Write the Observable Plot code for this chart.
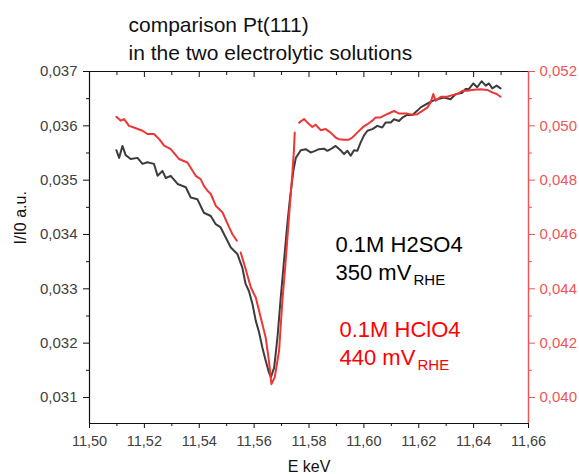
<!DOCTYPE html>
<html>
<head>
<meta charset="utf-8">
<script src="https://cdn.jsdelivr.net/npm/d3@7"></script>
<script src="https://cdn.jsdelivr.net/npm/@observablehq/plot@0.6"></script>
<style>
  html, body { margin: 0; padding: 0; background: white; }
  svg { display: block; }
</style>
</head>
<body>
<div id="chart"></div>
<script>
// ---- data ----
const E_H2SO4 = [11.5098,11.5108,11.5120,11.5132,11.5150,11.5175,11.5193,11.5211,11.5235,11.5248,11.5266,11.5278,11.5296,11.5321,11.5351,11.5369,11.5393,11.5417,11.5442,11.5460,11.5478,11.5497,11.5515,11.5539,11.5557,11.5569,11.5581,11.5594,11.5606,11.5618,11.5630,11.5642,11.5654,11.5661,11.5673,11.5685,11.5697,11.5709,11.5721,11.5731,11.5743,11.5752,11.5770,11.5788,11.5806,11.5818,11.5836,11.5855,11.5867,11.5885,11.5897,11.5915,11.5928,11.5940,11.5952,11.5964,11.5976,11.5988,11.6000,11.6013,11.6031,11.6049,11.6067,11.6079,11.6098,11.6110,11.6128,11.6140,11.6158,11.6177,11.6195,11.6207,11.6231,11.6250,11.6268,11.6292,11.6316,11.6334,11.6359,11.6371,11.6383,11.6399,11.6413,11.6429,11.6444,11.6456,11.6468,11.6484,11.6498];
const I_H2SO4 = [0.03555,0.03541,0.03563,0.03546,0.03539,0.03541,0.03530,0.03533,0.03530,0.03508,0.03517,0.03504,0.03508,0.03493,0.03487,0.03468,0.03465,0.03440,0.03434,0.03419,0.03413,0.03394,0.03376,0.03364,0.03339,0.03309,0.03296,0.03272,0.03241,0.03220,0.03192,0.03168,0.03146,0.03137,0.03155,0.03210,0.03284,0.03352,0.03419,0.03468,0.03517,0.03541,0.03555,0.03557,0.03551,0.03553,0.03557,0.03558,0.03554,0.03559,0.03563,0.03555,0.03548,0.03554,0.03545,0.03555,0.03554,0.03569,0.03582,0.03591,0.03594,0.03600,0.03597,0.03606,0.03606,0.03612,0.03609,0.03615,0.03620,0.03620,0.03628,0.03634,0.03641,0.03646,0.03649,0.03652,0.03649,0.03658,0.03661,0.03668,0.03668,0.03678,0.03671,0.03682,0.03674,0.03678,0.03669,0.03674,0.03669];

const E_HClO4 = [11.5098,11.5114,11.5126,11.5144,11.5162,11.5193,11.5211,11.5235,11.5254,11.5272,11.5296,11.5326,11.5357,11.5387,11.5405,11.5417,11.5430,11.5442,11.5460,11.5485,11.5509,11.5521,11.5537,11.5544,11.5551,11.5569,11.5588,11.5606,11.5624,11.5642,11.5654,11.5663,11.5675,11.5691,11.5703,11.5715,11.5727,11.5740,11.5745,11.5748,11.5756,11.5764,11.5782,11.5794,11.5812,11.5824,11.5843,11.5861,11.5879,11.5897,11.5909,11.5928,11.5946,11.5958,11.5976,11.5995,11.6013,11.6031,11.6043,11.6061,11.6079,11.6098,11.6110,11.6128,11.6140,11.6158,11.6177,11.6195,11.6213,11.6231,11.6243,11.6253,11.6262,11.6280,11.6304,11.6322,11.6341,11.6359,11.6377,11.6401,11.6426,11.6450,11.6468,11.6484,11.6498];
const I_HClO4 = [0.05033,0.05019,0.05025,0.05000,0.04994,0.04982,0.04970,0.04970,0.04951,0.04927,0.04914,0.04878,0.04865,0.04816,0.04804,0.04779,0.04761,0.04749,0.04706,0.04681,0.04626,0.04601,0.04577,null,0.04534,0.04473,0.04405,0.04368,0.04294,0.04221,0.04135,0.04049,0.04074,0.04172,0.04356,0.04503,0.04663,0.04834,0.04908,0.04975,null,0.05012,0.05025,0.05012,0.04996,0.05004,0.04984,0.04988,0.04975,0.04957,0.04951,0.04949,0.04949,0.04957,0.04975,0.04994,0.05006,0.05019,0.05031,0.05031,0.05040,0.05049,0.05055,0.05045,0.05045,0.05045,0.05041,0.05043,0.05055,0.05067,0.05086,0.05117,0.05092,0.05107,0.05107,0.05113,0.05117,0.05129,0.05129,0.05133,0.05135,0.05132,0.05123,0.05117,0.05107];

const xMajorTicks = [11.50,11.52,11.54,11.56,11.58,11.60,11.62,11.64,11.66];
const xMinorTicks = [11.51,11.53,11.55,11.57,11.59,11.61,11.63,11.65];
const yLeftMajor = [0.031,0.032,0.033,0.034,0.035,0.036,0.037];
const yLeftMinor = [0.0315,0.0325,0.0335,0.0345,0.0355,0.0365];
const yRightMajor = [0.040,0.042,0.044,0.046,0.048,0.050,0.052];
const yRightMinor = [0.041,0.043,0.045,0.047,0.049,0.051];

const xDomain = [11.50, 11.66];
const yLeftDomain = [0.030521, 0.037];
const yRightDomain = [0.039042, 0.052];

// linear map of right-axis values into the left-axis scale
const toLeft = v => yLeftDomain[0] + (v - yRightDomain[0]) * (yLeftDomain[1] - yLeftDomain[0]) / (yRightDomain[1] - yRightDomain[0]);
const fromLeft = v => yRightDomain[0] + (v - yLeftDomain[0]) * (yRightDomain[1] - yRightDomain[0]) / (yLeftDomain[1] - yLeftDomain[0]);

const blackData = E_H2SO4.map((e, i) => ({E: e, I: I_H2SO4[i]}));
const redData = E_HClO4.map((e, i) => ({E: e, I: I_HClO4[i] == null ? NaN : toLeft(I_HClO4[i])}));

const comma = (d, n) => d.toFixed(n).replace(".", ",");
const noText = () => "";

const RED_AXIS = "#f05555";
const RED_LINE = "#ee3636";
const GRAY_TXT = "#404040";
const FONT = "'Liberation Sans', Arial, Helvetica, sans-serif";

const chart = Plot.plot({
  width: 579,
  height: 474,
  marginLeft: 89,
  marginRight: 51,
  marginTop: 71,
  marginBottom: 51,
  style: {fontFamily: FONT, background: "white", overflow: "visible"},
  x: {domain: xDomain},
  y: {domain: yLeftDomain},
  marks: [
    // frame lines
    Plot.ruleY([yLeftDomain[1]], {stroke: "#111", strokeWidth: 1.2}),
    Plot.ruleY([yLeftDomain[0]], {stroke: "#111", strokeWidth: 1.2}),
    Plot.ruleX([xDomain[0]], {stroke: "#111", strokeWidth: 1.2}),
    // bottom axis
    Plot.axisX({ticks: xMajorTicks, tickSize: 5, tickPadding: 7, tickFormat: d => comma(d, 2), fontSize: 14.5, fill: GRAY_TXT, stroke: "#111", label: null}),
    Plot.axisX({ticks: xMinorTicks, tickSize: 3, tickFormat: noText, stroke: "#111", label: null}),
    // top ticks (inward)
    Plot.axisX({anchor: "top", ticks: xMajorTicks, tickSize: 5, dy: 5, tickFormat: noText, stroke: "#111", label: null}),
    Plot.axisX({anchor: "top", ticks: xMinorTicks, tickSize: 3, dy: 3, tickFormat: noText, stroke: "#111", label: null}),
    // left axis
    Plot.axisY({ticks: yLeftMajor, tickSize: 6, tickPadding: 6, tickFormat: d => comma(d, 3), fontSize: 15, fill: GRAY_TXT, stroke: "#111", label: null}),
    Plot.axisY({ticks: yLeftMinor, tickSize: 3, tickFormat: noText, stroke: "#111", label: null}),
    // right axis (red)
    Plot.axisY({anchor: "right", ticks: yRightMajor.map(toLeft), tickSize: 6, tickPadding: 5, tickFormat: d => comma(fromLeft(d), 3), fontSize: 15, fill: RED_AXIS, stroke: RED_AXIS, label: null}),
    Plot.axisY({anchor: "right", ticks: yRightMinor.map(toLeft), tickSize: 3, tickFormat: noText, stroke: RED_AXIS, label: null}),
    Plot.ruleX([xDomain[1]], {stroke: RED_AXIS, strokeWidth: 1.5}),
    // curves
    Plot.line(blackData, {x: "E", y: "I", stroke: "#3c3c3c", strokeWidth: 2}),
    Plot.line(redData, {x: "E", y: "I", stroke: RED_LINE, strokeWidth: 2}),
    // axis titles
    Plot.text(["I/I0 a.u."], {frameAnchor: "left", rotate: -90, dx: -69, dy: -3, fontSize: 16, fill: "#111"}),
    Plot.text(["E keV"], {frameAnchor: "bottom", dy: 48, lineAnchor: "bottom", fontSize: 16, fill: "#111"}),
    // title
    Plot.text(["comparison Pt(111)"], {frameAnchor: "top-left", textAnchor: "start", lineAnchor: "bottom", dx: 39, dy: -40, fontSize: 21, fill: "#111"}),
    Plot.text(["in the two electrolytic solutions"], {frameAnchor: "top-left", textAnchor: "start", lineAnchor: "bottom", dx: 39, dy: -12, fontSize: 21, fill: "#111"}),
    // annotations
    Plot.text(["0.1M H2SO4"], {frameAnchor: "top-left", textAnchor: "start", lineAnchor: "bottom", dx: 246, dy: 180, fontSize: 22, fill: "#000"}),
    Plot.text(["350 mV"], {frameAnchor: "top-left", textAnchor: "start", lineAnchor: "bottom", dx: 246, dy: 208, fontSize: 22, fill: "#000"}),
    Plot.text(["RHE"], {frameAnchor: "top-left", textAnchor: "start", lineAnchor: "bottom", dx: 324, dy: 213, fontSize: 15, fill: "#000"}),
    Plot.text(["0.1M HClO4"], {frameAnchor: "top-left", textAnchor: "start", lineAnchor: "bottom", dx: 250, dy: 265, fontSize: 22, fill: "#ff0000"}),
    Plot.text(["440 mV"], {frameAnchor: "top-left", textAnchor: "start", lineAnchor: "bottom", dx: 250, dy: 293, fontSize: 22, fill: "#ff0000"}),
    Plot.text(["RHE"], {frameAnchor: "top-left", textAnchor: "start", lineAnchor: "bottom", dx: 328, dy: 298, fontSize: 15, fill: "#ff0000"})
  ]
});
document.getElementById("chart").appendChild(chart);
</script>
</body>
</html>
